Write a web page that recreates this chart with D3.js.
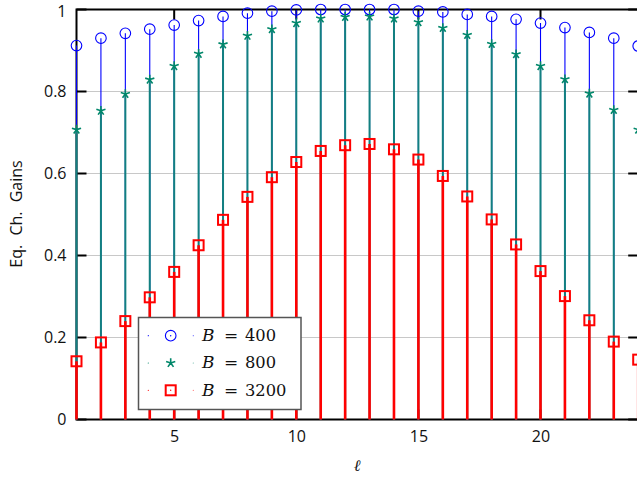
<!DOCTYPE html>
<html>
<head>
<meta charset="utf-8">
<script src="https://cdn.jsdelivr.net/npm/d3@7"></script>
<style>
  html, body { margin: 0; padding: 0; background: #fff; }
  svg { display: block; }
</style>
</head>
<body>
<svg id="chart" width="637" height="479"></svg>
<script>
// Equivalent channel gains per subcarrier index ℓ for three bandwidths
const ell = [1,2,3,4,5,6,7,8,9,10,11,12,13,14,15,16,17,18,19,20,21,22,23,24];
const gainB400 = [0.912,0.930,0.942,0.952,0.962,0.973,0.983,0.991,0.996,0.999,1.000,1.000,
                  1.000,1.000,0.996,0.994,0.988,0.983,0.976,0.967,0.956,0.944,0.930,0.911];
const gainB800 = [0.707,0.753,0.794,0.829,0.862,0.892,0.915,0.936,0.952,0.967,0.978,0.982,
                  0.983,0.978,0.969,0.955,0.938,0.916,0.891,0.862,0.830,0.795,0.755,0.707];
const gainB3200 = [0.142,0.188,0.240,0.298,0.360,0.425,0.487,0.543,0.591,0.628,0.655,0.669,
                   0.672,0.659,0.634,0.594,0.544,0.488,0.427,0.362,0.301,0.242,0.190,0.146];
const xTicks = [5,10,15,20];
const yTicks = [0,0.2,0.4,0.6,0.8,1];
const seriesLabels = ["400","800","3200"];

const svg = d3.select("#chart");
const plotLeft = 76.5, plotTop = 9.5, plotRight = 638.2, plotBottom = 419.5;

const x = d3.scaleLinear().domain([1,24]).range([plotLeft, plotRight]);
const y = d3.scaleLinear().domain([0,1]).range([plotBottom, plotTop]);

const sans = "'Open Sans', 'Noto Sans', sans-serif";
const serif = "'DejaVu Serif', serif";

// horizontal grid
svg.append("g").selectAll("line").data(yTicks.filter(d => d > 0 && d < 1)).join("line")
  .attr("x1", plotLeft).attr("x2", plotRight)
  .attr("y1", d => y(d)).attr("y2", d => y(d))
  .attr("stroke", "#c8c8c8").attr("stroke-width", 1);

// frame
svg.append("rect").attr("x", plotLeft).attr("y", plotTop)
  .attr("width", plotRight - plotLeft).attr("height", plotBottom - plotTop)
  .attr("fill", "none").attr("stroke", "#000").attr("stroke-width", 2);

// inward ticks on all four sides
const tickLen = 10;
const tk = svg.append("g").attr("stroke", "#000").attr("stroke-width", 2);
xTicks.forEach(v => {
  tk.append("line").attr("x1", x(v)).attr("x2", x(v)).attr("y1", plotTop).attr("y2", plotTop + tickLen);
  tk.append("line").attr("x1", x(v)).attr("x2", x(v)).attr("y1", plotBottom).attr("y2", plotBottom - tickLen);
});
yTicks.forEach(v => {
  tk.append("line").attr("x1", plotLeft).attr("x2", plotLeft + tickLen).attr("y1", y(v)).attr("y2", y(v));
  tk.append("line").attr("x1", plotRight).attr("x2", plotRight - tickLen).attr("y1", y(v)).attr("y2", y(v));
});

// tick labels via d3 axes (lines hidden, text only)
const xAxis = svg.append("g").attr("transform", `translate(0,${plotBottom})`)
  .call(d3.axisBottom(x).tickValues(xTicks).tickSize(0).tickPadding(11));
const yAxis = svg.append("g").attr("transform", `translate(${plotLeft},0)`)
  .call(d3.axisLeft(y).tickValues(yTicks).tickSize(0).tickPadding(10)
    .tickFormat(d => d3.format("~g")(d)));
[xAxis, yAxis].forEach(a => {
  a.select(".domain").remove();
  a.selectAll("text").attr("font-family", sans).attr("font-size", 16).attr("fill", "#111");
});
yAxis.selectAll(".tick").filter(d => d === 1).select("text").attr("dy", "0.42em");

// star marker path (five spokes)
function starPath(r) {
  let p = "";
  for (let i = 0; i < 5; i++) {
    const a = -Math.PI / 2 + i * 2 * Math.PI / 5;
    p += `M0,0L${(r * Math.cos(a)).toFixed(2)},${(r * Math.sin(a)).toFixed(2)}`;
  }
  return p;
}

const series = [
  { values: gainB400, stem: "#0000ff", stemW: 1.1, mark: "circle", color: "#0000ff" },
  { values: gainB800, stem: "#128080", stemW: 2, mark: "star", color: "#00876a" },
  { values: gainB3200, stem: "#ff0000", stemW: 2.6, mark: "square", color: "#ff0000" }
];

function drawMark(g, type, color) {
  if (type === "circle") {
    g.append("circle").attr("r", 5.3).attr("fill", "none").attr("stroke", color).attr("stroke-width", 1.1);
  } else if (type === "star") {
    g.append("path").attr("d", starPath(4.8)).attr("fill", "none").attr("stroke", color).attr("stroke-width", 1.6);
  } else {
    g.append("rect").attr("x", -5).attr("y", -5).attr("width", 10).attr("height", 10)
      .attr("fill", "none").attr("stroke", color).attr("stroke-width", 2);
  }
}

series.forEach(s => {
  const g = svg.append("g");
  g.selectAll("line").data(s.values).join("line")
    .attr("x1", (d, i) => x(ell[i])).attr("x2", (d, i) => x(ell[i]))
    .attr("y1", y(0)).attr("y2", d => y(d))
    .attr("stroke", s.stem).attr("stroke-width", s.stemW);
  g.selectAll("g.m").data(s.values).join("g").attr("class", "m")
    .attr("transform", (d, i) => `translate(${x(ell[i])},${y(d)})`)
    .each(function () { drawMark(d3.select(this), s.mark, s.color); });
});

// legend
const lg = svg.append("g");
lg.append("rect").attr("x", 138.5).attr("y", 317.5).attr("width", 162.5).attr("height", 92)
  .attr("fill", "#fff").attr("stroke", "#555").attr("stroke-width", 1.5);
series.forEach((s, i) => {
  const cy = 335.7 + i * 27.3;
  lg.append("circle").attr("cx", 148.3).attr("cy", cy).attr("r", 0.6).attr("fill", s.color);
  lg.append("circle").attr("cx", 193.3).attr("cy", cy).attr("r", 0.6).attr("fill", s.color).attr("opacity", 0.6);
  const m = lg.append("g").attr("transform", `translate(170.7,${cy})`);
  drawMark(m, s.mark, s.color);
  if (s.mark !== "star") m.append("circle").attr("r", 0.7).attr("fill", s.color);
  const base = cy + 5.2;
  const txt = (xx, str, size, italic) => lg.append("text")
    .attr("x", xx).attr("y", base)
    .attr("font-family", serif).attr("font-size", size).attr("fill", "#111")
    .attr("font-style", italic ? "italic" : "normal")
    .text(str);
  txt(202, "B", 17, true);
  txt(224, "=", 17, false);
  txt(245, seriesLabels[i], 16.3, false);
});

// axis titles
svg.append("text").attr("x", 357).attr("y", 471).attr("text-anchor", "middle")
  .attr("font-family", serif).attr("font-style", "italic").attr("font-size", 16).attr("fill", "#111")
  .text("ℓ");
svg.append("text").attr("transform", "translate(22,214) rotate(-90)").attr("text-anchor", "middle")
  .attr("font-family", sans).attr("font-size", 16).attr("fill", "#111").attr("word-spacing", 5)
  .text("Eq. Ch. Gains");
</script>
</body>
</html>
